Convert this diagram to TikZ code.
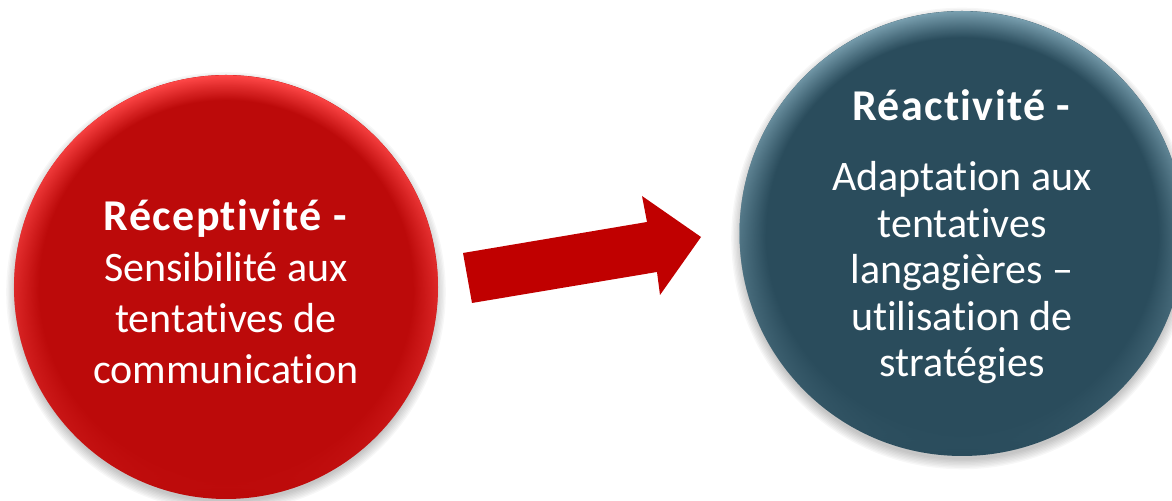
\documentclass[tikz,border=0pt]{standalone}
\usepackage{fontspec}
\setmainfont{Carlito}[Ligatures=NoCommon]
\usetikzlibrary{positioning, fadings}
\definecolor{RECred}{HTML}{BC0A0A}
\definecolor{RECredhi}{HTML}{FF4848}
\definecolor{RECteal}{HTML}{2A4C5C}
\definecolor{RECtealhi}{HTML}{7AA0B0}
\definecolor{RECarrow}{HTML}{C00000}
\tikzfading[name=rimfade, top color=transparent!0, middle color=transparent!100, bottom color=transparent!100]
\pgfdeclareradialshading{rimred}{\pgfpoint{0bp}{0bp}}{color(0bp)=(RECred); color(22bp)=(RECred); color(25bp)=(RECredhi); color(50bp)=(RECredhi)}
\pgfdeclareradialshading{rimteal}{\pgfpoint{0bp}{0bp}}{color(0bp)=(RECteal); color(22bp)=(RECteal); color(25bp)=(RECtealhi); color(50bp)=(RECtealhi)}
\newcommand{\bubbletitle}[1]{{\fontsize{22}{25.5}\selectfont\addfontfeature{LetterSpace=3}\textbf{#1}}}

\begin{document}
\begin{tikzpicture}[x=0.5pt, y=0.5pt,
      bubble/.style={circle, inner sep=0pt},
      txt/.style={text=white, align=center, inner sep=0pt},
      blockarrow/.style={fill=RECarrow, draw=none}]
   \useasboundingbox (0,0) rectangle (1172,501);
   % centres of the two circles
   \coordinate (rc) at (226,214);
   \coordinate (ac) at (962,267.5);
   % soft shadows
   \foreach \k in {0,...,7} {
      \fill[black, opacity=0.03] ([yshift=-2.5pt]rc) circle[radius=105pt+\k*0.7pt];
      \fill[black, opacity=0.03] ([yshift=-2.5pt]ac) circle[radius=110.5pt+\k*0.7pt];
   }
   % circles
   \node[bubble, fill=RECred, minimum size=212pt] (recept) at (rc) {};
   \node[bubble, fill=RECteal, minimum size=222.5pt] (react) at (ac) {};
   \path[shading=rimred, path fading=rimfade] (recept.center) circle[radius=106pt];
   \path[shading=rimteal, path fading=rimfade] (react.center) circle[radius=111.25pt];
   % texts
   \node[txt, font=\fontsize{21}{25.5}\selectfont] (recepttxt) at (226,209)
      {\bubbletitle{Réceptivité -}\\Sensibilité aux\\tentatives de\\communication};
   \node[txt, font=\fontsize{21}{23.3}\selectfont] (reacttxt) at (962,264)
      {\bubbletitle{Réactivité -}\\[11.5pt]Adaptation aux\\tentatives\\langagières –\\utilisation de\\stratégies};
   % arrow
   \fill[blockarrow] (463,248) -- (647,279) -- (642,305) -- (701,264)
      -- (660,206) -- (657,229) -- (472,198) -- cycle;
\end{tikzpicture}
\end{document}
